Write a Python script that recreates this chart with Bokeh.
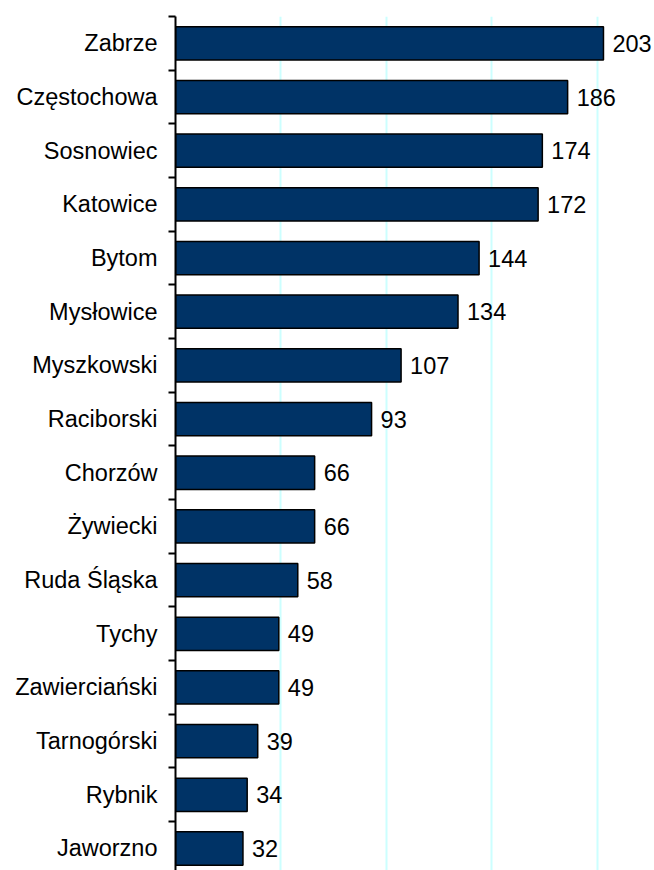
from bokeh.plotting import figure
from bokeh.models import Range1d, FixedTicker, ColumnDataSource
from bokeh.core.properties import value
from bokeh.embed import file_html
from bokeh.resources import INLINE

categories = ["Zabrze", "Częstochowa", "Sosnowiec", "Katowice", "Bytom", "Mysłowice",
              "Myszkowski", "Raciborski", "Chorzów", "Żywiecki", "Ruda Śląska", "Tychy",
              "Zawierciański", "Tarnogórski", "Rybnik", "Jaworzno"]
values = [203, 186, 174, 172, 144, 134, 107, 93, 66, 66, 58, 49, 49, 39, 34, 32]
grid_ticks = [50, 100, 150, 200]

n = len(categories)
pos = list(range(n))
src = ColumnDataSource(dict(y=pos, v=values, lbl=[str(v) for v in values]))

FONT = "Liberation Sans"
FS = "23.5px"

p = figure(width=654, height=870, output_backend="svg", toolbar_location=None,
           x_range=Range1d(0, 227.2), y_range=Range1d(15.41, -0.5),
           min_border_left=175, min_border_right=0, min_border_top=16, min_border_bottom=0)
p.outline_line_color = None
p.background_fill_color = "white"
p.border_fill_color = "white"

p.xaxis.visible = False
p.xgrid.ticker = FixedTicker(ticks=grid_ticks)
p.xgrid.grid_line_color = "#CCFFFF"
p.xgrid.grid_line_width = 2
p.ygrid.visible = False

p.hbar(y="y", right="v", left=0, height=0.62, source=src,
       fill_color="#003366", line_color="black", line_width=1.5)

p.text(x="v", y="y", text="lbl", source=src, x_offset=9,
       text_font=value(FONT), text_font_size=FS, text_baseline="middle",
       text_align="left", text_color="black")

ya = p.yaxis[0]
ya.ticker = FixedTicker(ticks=pos, minor_ticks=[i - 0.5 for i in range(n + 1)])
ya.major_label_overrides = {i: c for i, c in enumerate(categories)}
ya.major_tick_out = 0
ya.major_tick_in = 0
ya.minor_tick_out = 7
ya.minor_tick_in = 0
ya.minor_tick_line_width = 2
ya.minor_tick_line_color = "black"
ya.axis_line_width = 2
ya.axis_line_color = "black"
ya.major_label_standoff = 11
ya.major_label_text_font = FONT
ya.major_label_text_font_size = FS
ya.major_label_text_color = "black"

open("out.html", "w").write(file_html(p, INLINE))
